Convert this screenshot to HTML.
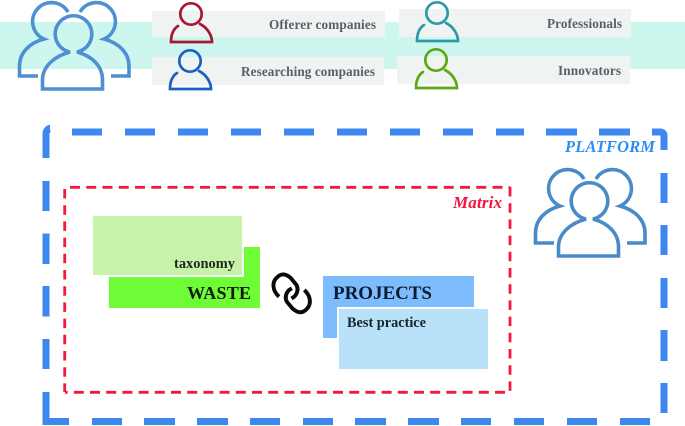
<!DOCTYPE html>
<html><head><meta charset="utf-8"><style>
html,body{margin:0;padding:0;background:#fff;width:685px;height:426px;overflow:hidden}
svg{display:block;filter:blur(.35px)}
text{font-family:"Liberation Serif",serif;font-weight:bold}
</style></head><body>
<svg width="685" height="426" viewBox="0 0 685 426" xmlns="http://www.w3.org/2000/svg">
<defs>
<g id="grp" fill="none" stroke-width="3.6">
<path d="M70 52A18.3 18.3 0 1 1 77 52C92 56 102.5 66 102.5 80V89H42.5V80C42.5 66 55 56 70 52Z" stroke-linejoin="miter"/>
<path d="M68 12A19 19 0 1 0 44 39C29 43 19.5 53 19.5 66V76H38"/>
<path d="M80 12A19 19 0 1 1 104 39C119 43 129 53 129 66V76H111"/>
</g>
<g id="p" fill="none" stroke-width="2.7" stroke-linecap="round">
<circle cx="0" cy="0" r="10.7"/>
<path d="M-13 12C-19 16-20 23-20 28H21C21 22 17 14 9 10"/>
</g>
</defs>
<rect x="0" y="22" width="685" height="47" fill="#cdf7ee"/>
<g fill="#eff3f2">
<rect x="152" y="11" width="233" height="26"/>
<rect x="152" y="57" width="232" height="28"/>
<rect x="399" y="9" width="232" height="28"/>
<rect x="397" y="56" width="233" height="28"/>
</g>
<use href="#grp" stroke="#4f8fd4"/>
<use href="#p" x="191" y="14" stroke="#a5182f"/>
<use href="#p" x="190" y="61" stroke="#1a5fc4"/>
<use href="#p" x="437" y="13" stroke="#2a9ba6"/>
<use href="#p" x="436" y="60" stroke="#5fa812"/>
<g fill="#55616a" font-size="13.2">
<text x="269" y="29" textLength="107" lengthAdjust="spacing">Offerer companies</text>
<text x="241" y="76" textLength="134" lengthAdjust="spacing">Researching companies</text>
<text x="547" y="28" textLength="75" lengthAdjust="spacing">Professionals</text>
<text x="558" y="75" textLength="63" lengthAdjust="spacing">Innovators</text>
</g>
<path fill="none" stroke="#3d87f0" stroke-width="7" d="M46 158V134Q46 130 49.5 128.5H50
M46 181V211M46 233.5V264M46 286V316.5M46 339V369M46 392V421.5H69
M72 132H102M125 132H155M178 132H208M231 132H261M284 132H314M337 132H367M390 132H420M443 132H473M496 132H524M546 132H577M599 132H630
M652 132H660Q664 132 664 136V150
M664 173V203M664 225V255M664 278V308M664 330V361M664 383V413
M650 421.5H620M597 421.5H567M544 421.5H514M491 421.5H461M439 421.5H408M386 421.5H355M333 421.5H303M280 421.5H250M228 421.5H197M175 421.5H144M122 421.5H92"/>
<g fill="none" stroke="#f5173e" stroke-width="2.8">
<path d="M70 187.3H510" stroke-dasharray="10 6.25"/>
<path d="M510 187V392" stroke-dasharray="9.5 6.7"/>
<path d="M505 392.3H65" stroke-dasharray="10 6.2"/>
<path d="M64.7 189V392" stroke-dasharray="9.5 6.7"/>
</g>
<text x="453" y="208" font-size="17" font-style="italic" fill="#f0163e" textLength="49">Matrix</text>
<text x="565" y="152" font-size="16.4" font-style="italic" fill="#2b8ff0" textLength="90">PLATFORM</text>
<use href="#grp" x="516" y="167" stroke="#4a8ac9"/>

<rect x="109" y="247" width="151" height="61" fill="#6efc37"/>
<rect x="93" y="216" width="151" height="61" fill="#fff"/>
<rect x="93" y="216" width="149" height="59" fill="#c6f2a9"/>
<text x="174" y="268" font-size="14.4" fill="#1c2a1c" textLength="61">taxonomy</text>
<text x="187" y="299" font-size="18" fill="#0e1a08" textLength="64">WASTE</text>

<rect x="323" y="276" width="151" height="62" fill="#7dbcfd"/>
<rect x="337" y="307" width="151" height="62" fill="#fff"/>
<rect x="339" y="309" width="149" height="60" fill="#b9e1fa"/>
<text x="333" y="299" font-size="19" fill="#0d1b2e" textLength="99">PROJECTS</text>
<text x="347" y="327" font-size="14.3" fill="#16242e" textLength="79">Best practice</text>

<g fill="none" stroke="#0a0a0a" stroke-width="3.9">
<path d="M279 296.7C271.7 290 272.3 281.7 276.7 277.7C281.7 272.3 286.7 274.3 291 278.3L296.5 285C298.5 289 297.5 293 294.5 296.5L291.5 298.5"/>
<path d="M304.3 290C311.7 296.7 311 305 306.7 309C301.7 314.3 296.7 312.3 292.3 308.3L286.8 301.7C284.8 297.7 285.8 293.7 288.8 290.2L291.8 288.2"/>
</g>
</svg>
</body></html>
